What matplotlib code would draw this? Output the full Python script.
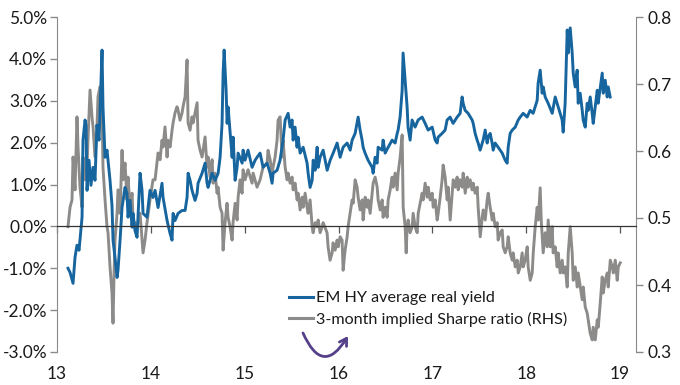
import matplotlib
matplotlib.use("Agg")
import matplotlib.pyplot as plt
from matplotlib.lines import Line2D

# ---------------- data ----------------
yield_years = [
    13.117, 13.139, 13.171, 13.192, 13.213, 13.235, 13.267, 13.277, 13.299, 13.309,
    13.320, 13.341, 13.362, 13.384, 13.405, 13.426, 13.448, 13.480, 13.490, 13.512,
    13.533, 13.565, 13.586, 13.597, 13.618, 13.640, 13.650, 13.672, 13.693, 13.704,
    13.725, 13.746, 13.757, 13.778, 13.800, 13.810, 13.831, 13.853, 13.885, 13.906,
    13.917, 13.959, 13.991, 14.023, 14.045, 14.077, 14.119, 14.130, 14.173, 14.205,
    14.226, 14.237, 14.258, 14.290, 14.333, 14.365, 14.386, 14.397, 14.418, 14.439,
    14.471, 14.493, 14.503, 14.546, 14.578, 14.599, 14.610, 14.653, 14.685, 14.717,
    14.738, 14.759, 14.770, 14.781, 14.802, 14.813, 14.823, 14.845, 14.866, 14.877,
    14.898, 14.919, 14.930, 14.973, 14.983, 15.004, 15.036, 15.079, 15.111, 15.132,
    15.164, 15.196, 15.239, 15.271, 15.292, 15.303, 15.345, 15.377, 15.409, 15.431,
    15.463, 15.484, 15.505, 15.516, 15.537, 15.558, 15.569, 15.591, 15.623, 15.665,
    15.676, 15.697, 15.719, 15.730, 15.751, 15.772, 15.783, 15.804, 15.836, 15.879,
    15.911, 15.943, 15.985, 16.017, 16.049, 16.092, 16.124, 16.145, 16.177, 16.209,
    16.230, 16.251, 16.262, 16.283, 16.315, 16.358, 16.369, 16.390, 16.411, 16.422,
    16.465, 16.475, 16.497, 16.529, 16.571, 16.603, 16.625, 16.635, 16.656, 16.678,
    16.688, 16.710, 16.731, 16.741, 16.763, 16.784, 16.816, 16.848, 16.891, 16.923,
    16.955, 16.998, 17.030, 17.051, 17.061, 17.104, 17.136, 17.157, 17.189, 17.221,
    17.264, 17.296, 17.317, 17.328, 17.349, 17.381, 17.424, 17.435, 17.456, 17.477,
    17.488, 17.509, 17.541, 17.563, 17.584, 17.595, 17.616, 17.637, 17.648, 17.669,
    17.701, 17.744, 17.776, 17.797, 17.808, 17.829, 17.851, 17.883, 17.915, 17.936,
    17.968, 18.010, 18.042, 18.074, 18.117, 18.127, 18.149, 18.170, 18.181, 18.202,
    18.234, 18.277, 18.309, 18.341, 18.383, 18.394, 18.415, 18.437, 18.448, 18.469,
    18.490, 18.501, 18.522, 18.543, 18.554, 18.575, 18.597, 18.607, 18.629, 18.650,
    18.661, 18.682, 18.703, 18.714, 18.735, 18.757, 18.767, 18.810, 18.821, 18.842,
    18.863, 18.874, 18.895,
]
real_yield = [
    -1.00, -1.10, -1.36, -0.74, -0.45, -0.57, 0.22, 2.06, 2.54, 2.42,
    0.86, 1.58, 0.98, 1.41, 1.10, 2.42, 2.06, 4.21, 2.85, 1.65,
    1.82, 1.10, 0.50, -0.33, -0.74, -1.22, -1.05, -0.33, 0.45, 0.62,
    0.93, 0.79, 0.22, 0.62, -0.02, 0.31, -0.10, -0.26, 1.27, 0.86,
    0.31, 0.22, 0.86, 0.69, 0.86, 0.45, 1.03, 0.69, 0.14, -0.17,
    -0.33, 0.31, 0.14, 0.31, 0.38, 0.38, 0.69, 1.27, 1.10, 0.86,
    0.62, 0.79, 1.03, 1.27, 1.51, 1.03, 0.93, 1.27, 1.10, 1.27,
    1.65, 2.46, 3.66, 4.21, 3.25, 2.46, 2.85, 2.22, 1.65, 2.13,
    1.10, 1.41, 1.75, 1.51, 1.82, 1.58, 1.82, 1.41, 1.58, 1.65,
    1.75, 1.41, 1.51, 1.27, 1.03, 1.27, 1.34, 1.58, 2.06, 2.54,
    2.70, 2.37, 2.54, 2.06, 2.37, 1.89, 2.13, 1.75, 1.89, 1.51,
    1.27, 0.93, 1.10, 1.58, 1.34, 1.89, 1.41, 1.65, 1.82, 1.34,
    1.58, 1.75, 1.99, 1.65, 1.89, 1.99, 1.82, 2.06, 2.22, 2.61,
    2.30, 2.06, 1.89, 1.75, 1.58, 1.41, 1.27, 1.65, 1.51, 1.89,
    1.82, 2.06, 1.75, 1.89, 2.06, 1.99, 2.22, 2.30, 2.61, 3.25,
    4.14, 3.49, 2.85, 2.37, 2.06, 2.54, 2.37, 2.54, 2.61, 2.46,
    2.30, 2.37, 2.06, 1.99, 2.13, 2.22, 2.30, 2.54, 2.61, 2.46,
    2.61, 2.70, 3.09, 2.94, 2.77, 2.70, 2.54, 2.46, 2.22, 2.06,
    1.99, 1.82, 2.06, 2.30, 1.99, 2.13, 2.22, 1.99, 1.82, 1.99,
    1.89, 1.75, 1.58, 1.51, 1.89, 2.22, 2.30, 2.37, 2.54, 2.61,
    2.70, 2.61, 2.77, 2.70, 3.01, 3.42, 3.73, 3.18, 3.33, 3.09,
    2.94, 2.70, 3.09, 2.85, 2.54, 2.25, 2.94, 4.69, 4.14, 4.74,
    4.14, 3.66, 3.33, 3.73, 2.94, 3.18, 2.77, 2.54, 2.37, 2.94,
    2.77, 3.09, 2.70, 2.46, 2.85, 3.25, 2.94, 3.66, 3.18, 3.49,
    3.09, 3.33, 3.09,
]

sharpe_years = [
    13.117, 13.139, 13.160, 13.171, 13.192, 13.213, 13.224, 13.245, 13.267, 13.277,
    13.299, 13.320, 13.330, 13.352, 13.373, 13.384, 13.405, 13.426, 13.437, 13.458,
    13.480, 13.490, 13.512, 13.533, 13.544, 13.565, 13.586, 13.597, 13.608, 13.618,
    13.640, 13.650, 13.672, 13.693, 13.704, 13.725, 13.746, 13.757, 13.778, 13.800,
    13.810, 13.853, 13.885, 13.906, 13.917, 13.938, 13.959, 13.991, 14.023, 14.045,
    14.077, 14.098, 14.119, 14.130, 14.151, 14.173, 14.183, 14.205, 14.226, 14.237,
    14.258, 14.279, 14.290, 14.311, 14.333, 14.343, 14.365, 14.386, 14.397, 14.418,
    14.439, 14.450, 14.471, 14.493, 14.503, 14.525, 14.546, 14.557, 14.578, 14.599,
    14.610, 14.631, 14.653, 14.663, 14.684, 14.706, 14.716, 14.738, 14.759, 14.770,
    14.791, 14.812, 14.823, 14.844, 14.866, 14.876, 14.898, 14.919, 14.930, 14.951,
    14.972, 14.983, 15.004, 15.036, 15.079, 15.090, 15.132, 15.164, 15.196, 15.239,
    15.249, 15.271, 15.292, 15.303, 15.324, 15.345, 15.356, 15.377, 15.399, 15.409,
    15.431, 15.452, 15.463, 15.484, 15.505, 15.516, 15.537, 15.559, 15.569, 15.591,
    15.612, 15.623, 15.644, 15.665, 15.676, 15.697, 15.719, 15.729, 15.751, 15.772,
    15.783, 15.804, 15.825, 15.836, 15.878, 15.889, 15.910, 15.932, 15.942, 15.964,
    15.985, 15.996, 16.017, 16.038, 16.049, 16.070, 16.092, 16.102, 16.124, 16.145,
    16.156, 16.177, 16.198, 16.209, 16.230, 16.252, 16.262, 16.284, 16.305, 16.316,
    16.337, 16.358, 16.369, 16.390, 16.412, 16.422, 16.444, 16.465, 16.475, 16.497,
    16.518, 16.529, 16.550, 16.571, 16.582, 16.603, 16.625, 16.635, 16.657, 16.678,
    16.689, 16.710, 16.721, 16.731, 16.742, 16.763, 16.785, 16.795, 16.817, 16.838,
    16.849, 16.870, 16.891, 16.902, 16.923, 16.945, 16.955, 16.977, 16.998, 17.009,
    17.030, 17.051, 17.062, 17.083, 17.104, 17.115, 17.136, 17.158, 17.168, 17.190,
    17.211, 17.222, 17.243, 17.264, 17.275, 17.296, 17.318, 17.328, 17.350, 17.371,
    17.382, 17.403, 17.424, 17.435, 17.456, 17.478, 17.488, 17.510, 17.531, 17.542,
    17.563, 17.584, 17.595, 17.616, 17.638, 17.648, 17.670, 17.691, 17.701, 17.723,
    17.744, 17.755, 17.776, 17.797, 17.808, 17.829, 17.851, 17.861, 17.883, 17.904,
    17.915, 17.936, 17.957, 17.968, 17.989, 18.011, 18.021, 18.043, 18.064, 18.075,
    18.096, 18.117, 18.128, 18.149, 18.160, 18.181, 18.202, 18.224, 18.234, 18.256,
    18.277, 18.287, 18.309, 18.330, 18.341, 18.362, 18.384, 18.394, 18.416, 18.437,
    18.448, 18.469, 18.490, 18.501, 18.522, 18.544, 18.554, 18.576, 18.597, 18.608,
    18.629, 18.650, 18.661, 18.682, 18.704, 18.714, 18.736, 18.757, 18.768, 18.789,
    18.810, 18.821, 18.842, 18.864, 18.874, 18.896, 18.917, 18.928, 18.949, 18.970,
    18.981, 19.002,
]
sharpe_ratio = [
    0.487, 0.516, 0.527, 0.591, 0.542, 0.651, 0.606, 0.546, 0.516, 0.591,
    0.557, 0.576, 0.616, 0.691, 0.651, 0.636, 0.591, 0.636, 0.681, 0.696,
    0.666, 0.576, 0.527, 0.487, 0.478, 0.427, 0.388, 0.343, 0.418, 0.467,
    0.507, 0.542, 0.507, 0.601, 0.557, 0.582, 0.527, 0.561, 0.516, 0.537,
    0.497, 0.487, 0.507, 0.467, 0.448, 0.467, 0.493, 0.527, 0.557, 0.557,
    0.597, 0.587, 0.616, 0.606, 0.636, 0.591, 0.616, 0.606, 0.631, 0.642,
    0.657, 0.666, 0.661, 0.646, 0.657, 0.666, 0.681, 0.736, 0.642, 0.631,
    0.651, 0.642, 0.657, 0.672, 0.616, 0.601, 0.591, 0.601, 0.621, 0.576,
    0.591, 0.561, 0.587, 0.552, 0.567, 0.537, 0.546, 0.516, 0.507, 0.452,
    0.493, 0.522, 0.501, 0.487, 0.467, 0.493, 0.522, 0.497, 0.531, 0.557,
    0.537, 0.572, 0.557, 0.572, 0.552, 0.567, 0.546, 0.557, 0.576, 0.582,
    0.601, 0.587, 0.567, 0.576, 0.591, 0.616, 0.646, 0.651, 0.591, 0.616,
    0.576, 0.557, 0.567, 0.552, 0.561, 0.542, 0.552, 0.527, 0.537, 0.512,
    0.531, 0.516, 0.537, 0.516, 0.507, 0.527, 0.487, 0.478, 0.493, 0.487,
    0.497, 0.478, 0.487, 0.493, 0.478, 0.457, 0.437, 0.448, 0.463, 0.452,
    0.467, 0.457, 0.472, 0.467, 0.422, 0.452, 0.472, 0.487, 0.507, 0.527,
    0.522, 0.557, 0.546, 0.531, 0.512, 0.527, 0.497, 0.531, 0.516, 0.527,
    0.507, 0.537, 0.552, 0.561, 0.546, 0.527, 0.512, 0.527, 0.501, 0.516,
    0.501, 0.527, 0.542, 0.561, 0.546, 0.567, 0.542, 0.567, 0.591, 0.624,
    0.516, 0.487, 0.448, 0.487, 0.497, 0.478, 0.487, 0.507, 0.487, 0.478,
    0.507, 0.522, 0.537, 0.527, 0.552, 0.531, 0.546, 0.527, 0.537, 0.516,
    0.527, 0.497, 0.507, 0.531, 0.557, 0.579, 0.561, 0.527, 0.546, 0.497,
    0.537, 0.557, 0.546, 0.561, 0.542, 0.557, 0.546, 0.567, 0.537, 0.561,
    0.546, 0.557, 0.542, 0.552, 0.537, 0.546, 0.516, 0.472, 0.501, 0.512,
    0.497, 0.527, 0.537, 0.516, 0.497, 0.507, 0.487, 0.493, 0.467, 0.478,
    0.482, 0.457, 0.448, 0.457, 0.472, 0.448, 0.437, 0.448, 0.427, 0.437,
    0.418, 0.427, 0.448, 0.427, 0.437, 0.457, 0.427, 0.407, 0.418, 0.448,
    0.487, 0.516, 0.497, 0.545, 0.497, 0.448, 0.478, 0.457, 0.497, 0.457,
    0.487, 0.448, 0.457, 0.427, 0.448, 0.418, 0.437, 0.418, 0.427, 0.397,
    0.448, 0.487, 0.448, 0.407, 0.427, 0.397, 0.418, 0.397, 0.378, 0.397,
    0.367, 0.358, 0.348, 0.328, 0.318, 0.337, 0.318, 0.348, 0.337, 0.373,
    0.412, 0.388, 0.407, 0.418, 0.397, 0.437, 0.427, 0.418, 0.437, 0.407,
    0.427, 0.433,
]

x_ticks = [13, 14, 15, 16, 17, 18, 19]
left_ticks = [-3, -2, -1, 0, 1, 2, 3, 4, 5]
right_ticks = [0.3, 0.4, 0.5, 0.6, 0.7, 0.8]
series_labels = ["EM HY average real yield", "3-month implied Sharpe ratio (RHS)"]

# ---------------- style ----------------
BLUE = "#17659e"
GREY = "#8c8b89"
SPINE = "#8a8a8a"
TXT = "#1a1a1a"
FONT = "Lato"
FS = 12.5
LEG_FS = 11.6

plt.rcParams["font.family"] = [FONT, "DejaVu Sans"]

fig = plt.figure(figsize=(6.8, 3.85), dpi=100)
ax = fig.add_axes([57 / 680, 1 - 352 / 385, (636 - 57) / 680, (352 - 17) / 385])
ax2 = ax.twinx()

ax2.plot(sharpe_years, sharpe_ratio, color=GREY, lw=2.1, solid_joinstyle="round")
ax.plot(yield_years, real_yield, color=BLUE, lw=2.1, solid_joinstyle="round")

ax.set_zorder(ax2.get_zorder() + 1)
ax.patch.set_visible(False)

ax.set_xlim(13, 19.17)
ax.set_ylim(-3, 5)
ax2.set_ylim(0.3, 0.8)

# left axis
ax.set_yticks(left_ticks)
ax.set_yticklabels([f"{v:.1f}%" for v in left_ticks])
ax.tick_params(axis="y", direction="out", length=5, width=1, color=SPINE,
               labelsize=FS, labelcolor=TXT, pad=2)
# right axis
ax2.set_yticks(right_ticks)
ax2.set_yticklabels([f"{v:.1f}" for v in right_ticks])
ax2.tick_params(axis="y", direction="out", length=5, width=1, color=SPINE,
                labelsize=FS, labelcolor=TXT, pad=3)

# x axis on the zero line, labels at the bottom
ax.spines["bottom"].set_position(("data", 0))
ax.spines["bottom"].set_color("#333333")
ax.spines["bottom"].set_linewidth(0.9)
ax.set_xticks(x_ticks)
ax.set_xticklabels([str(t) for t in x_ticks])
ax.tick_params(axis="x", direction="out", length=5, width=0.9, color="#555555",
               labelsize=FS, labelcolor=TXT, pad=(364 - 226 - 5) * 0.72)

for a in (ax, ax2):
    a.spines["top"].set_visible(False)
ax.spines["right"].set_visible(False)
ax.spines["left"].set_color(SPINE)
ax2.spines["left"].set_visible(False)
ax2.spines["bottom"].set_visible(False)
ax2.spines["right"].set_color(SPINE)

# legend
handles = [Line2D([], [], color=BLUE, lw=2.2), Line2D([], [], color=GREY, lw=2.2)]
ax.legend(handles, series_labels, loc="upper left", frameon=False,
          bbox_to_anchor=(289 / 680, 1 - 291 / 385), bbox_transform=fig.transFigure,
          fontsize=LEG_FS, handlelength=1.5, handletextpad=0.2, labelspacing=0.42,
          borderpad=0, borderaxespad=0, labelcolor=TXT)

# curved arrow below legend
ax.annotate("", xy=(348, 385 - 336), xycoords="figure pixels",
            xytext=(303, 385 - 333), textcoords="figure pixels",
            arrowprops=dict(arrowstyle="->,head_length=0.5,head_width=0.3",
                            color="#57408a", lw=2.0,
                            connectionstyle="arc3,rad=0.95",
                            shrinkA=0, shrinkB=0))

fig.savefig("out.png", dpi=100)
